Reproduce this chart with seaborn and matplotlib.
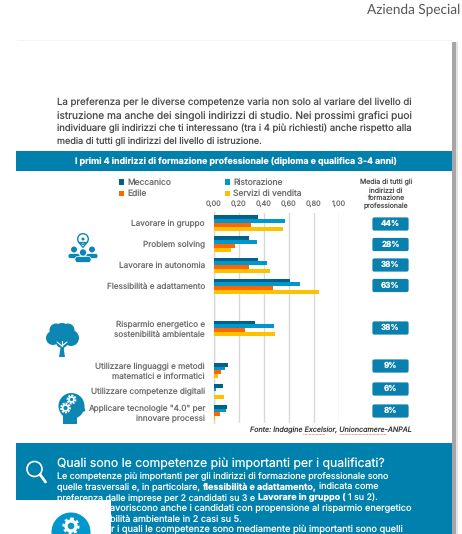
import numpy as np
import pandas as pd
import matplotlib
matplotlib.use("Agg")
import matplotlib.pyplot as plt
from matplotlib.patches import Rectangle, FancyBboxPatch, Circle, Polygon
import seaborn as sns

categories = ["Lavorare in gruppo", "Problem solving", "Lavorare in autonomia",
              "Flessibilità e adattamento", " ",
              "Risparmio energetico e\nsostenibilità ambientale", "  ",
              "Utilizzare linguaggi e metodi\nmatematici e informatici",
              "Utilizzare competenze digitali",
              "Applicare tecnologie \"4.0\" per\ninnovare processi"]
meccanico = [0.355, 0.283, 0.355, 0.608, np.nan, 0.325, np.nan, 0.11, 0.075, 0.10]
ristorazione = [0.565, 0.347, 0.42, 0.688, np.nan, 0.477, np.nan, 0.088, 0.016, 0.096]
edile = [0.295, 0.168, 0.283, 0.47, np.nan, 0.248, np.nan, 0.053, 0.0, 0.045]
servizi = [0.55, 0.136, 0.448, 0.837, np.nan, 0.485, np.nan, 0.03, 0.08, 0.005]
media_labels = ["44%", "28%", "38%", "63%", "38%", "9%", "6%", "8%"]
media_y = [224, 244.5, 265, 285.5, 328, 366, 389, 411]
series_names = ["Meccanico", "Ristorazione", "Edile", "Servizi di vendita"]
series_colors = ["#00618A", "#0097CC", "#FF6600", "#FFC000"]
xticks = [0, 0.2, 0.4, 0.6, 0.8, 1.0]
xticklabels = ["0,00", "0,20", "0,40", "0,60", "0,80", "1,00"]

W, H = 462, 534
BLUE = "#0080AC"
FONT = "Inter"
GREY = "#6E6E6E"

sns.set_theme(style="white")
plt.rcParams["font.family"] = [FONT, "DejaVu Sans"]
plt.rcParams["text.hinting"] = "no_hinting"

fig = plt.figure(figsize=(W / 100, H / 100), dpi=100, facecolor="white")

page = fig.add_axes([0, 0, 1, 1], zorder=0)
page.set_xlim(0, W)
page.set_ylim(H, 0)
page.axis("off")

# page shadow, bands
page.add_patch(Rectangle((452, 42), 4, 492, color="#A6A6A6", lw=0))
page.add_patch(Rectangle((456, 42), 2, 492, color="#E2E2E2", lw=0))
page.add_patch(Rectangle((17, 40), 435, 1.2, color="#F4F4F4", lw=0))
page.add_patch(Rectangle((16, 151), 436, 19.5, color=BLUE, lw=0))
page.add_patch(Rectangle((16, 443), 436, 91, color=BLUE, lw=0))

page.text(367, 10, "Azienda Special", fontsize=9.85, color="#555555", va="center", family="Lato")

renderer = fig.canvas.get_renderer()


def width(s, size, weight="normal"):
    t = page.text(0, 0, s, fontsize=size, fontweight=weight)
    w = t.get_window_extent(renderer).width
    t.remove()
    return w


def line(y, x0, x1, runs, color, size=6.0):
    """Draw one line whose runs share a size fitted to the span x0..x1."""
    gap = width("a a", size) - width("aa", size)
    natural = sum(width(t, size, wt) for t, wt in runs) + gap * (len(runs) - 1)
    fitted = size * (x1 - x0) / natural
    gap = gap * fitted / size
    x = x0
    for t, wt in runs:
        page.text(x, y + fitted * 0.47, t, fontsize=fitted, fontweight=wt, color=color,
                  va="baseline", ha="left")
        x += width(t, fitted, wt) + gap


# intro paragraph
C_BODY = "#4A4A4A"
line(102, 57, 412, [("La preferenza per le diverse competenze varia non solo al variare del livello di", "normal")], C_BODY)
line(115, 57, 412, [("istruzione ma anche dei singoli indirizzi di studio. Nei prossimi grafici puoi", "normal")], C_BODY)
line(128, 57, 412, [("individuare gli indirizzi che ti interessano (tra i 4 più richiesti) anche rispetto alla", "normal")], C_BODY)
line(140.5, 57, 262, [("media di tutti gli indirizzi del livello di istruzione.", "normal")], C_BODY)

page.text(235.5, 161, "I primi 4 indirizzi di formazione professionale (diploma e qualifica 3-4 anni)",
          color="white", fontsize=6.35, fontweight="bold", ha="center", va="center")

# column heading
page.text(386, 194.5, "Media di tutti gli\nindirizzi di\nformazione\nprofessionale", fontsize=5.0,
          color="#505050", ha="center", va="center", linespacing=1.15)

# chart
ax_l, ax_r, ax_t, ax_b = 214, 339, 212.5, 423
ax = fig.add_axes([ax_l / W, 1 - ax_b / H, (ax_r - ax_l) / W, (ax_b - ax_t) / H], zorder=2)
ax.patch.set_alpha(0)
df = pd.DataFrame({"categoria": categories, "Meccanico": meccanico, "Ristorazione": ristorazione,
                   "Edile": edile, "Servizi di vendita": servizi})
long = df.melt(id_vars="categoria", var_name="indirizzo", value_name="valore")
sns.barplot(data=long, y="categoria", x="valore", hue="indirizzo", order=categories,
            hue_order=series_names, palette=series_colors, width=0.72, saturation=1,
            errorbar=None, ax=ax, zorder=3, linewidth=0, edgecolor="none")
ax.set_xlim(0, 1)
ax.set_ylim(9.5, -0.5)
ax.set_xlabel("")
ax.set_ylabel("")
ax.xaxis.tick_top()
ax.set_xticks(xticks)
ax.set_xticklabels(xticklabels, fontsize=5.2, color=GREY)
ax.tick_params(axis="x", length=0, pad=4)
ax.tick_params(axis="y", length=0, pad=6.5)
for lab in ax.get_yticklabels():
    lab.set_fontsize(5.9)
    lab.set_color(GREY)
    lab.set_multialignment("right")
    lab.set_linespacing(1.2)
ax.grid(axis="x", color="#D9D9D9", lw=1)
ax.set_axisbelow(True)
for s in ["top", "right", "bottom"]:
    ax.spines[s].set_visible(False)
ax.spines["left"].set_color("#D9D9D9")
ax.spines["left"].set_linewidth(1)

handles, labels = ax.get_legend_handles_labels()
order = [0, 2, 1, 3]
ax.legend([handles[i] for i in order], [labels[i] for i in order], ncol=2, frameon=False,
          loc="lower left", bbox_to_anchor=(119 / W, 1 - 198 / H), bbox_transform=fig.transFigure,
          fontsize=6.1, labelcolor=GREY, handlelength=0.6, handleheight=0.6, handletextpad=0.4,
          columnspacing=6.3, labelspacing=0.35, borderpad=0, borderaxespad=0)

# right-hand average boxes
for lab, y in zip(media_labels, media_y):
    page.add_patch(FancyBboxPatch((373, y - 6), 35, 12, boxstyle="round,pad=0.6,rounding_size=1.8",
                                  fc="#0A80AE", ec="none"))
    page.text(390.5, y, lab, color="white", fontsize=5.8, fontweight="bold", ha="center", va="center")

# source
page.text(412, 430.5, "Fonte: Indagine Excelsior, Unioncamere-ANPAL", fontsize=5.15, fontstyle="italic",
          color="#3C3C3C", ha="right", va="center")
page.plot([303, 325], [433.5, 433.5], color="#E03030", lw=0.5, ls=(0, (1, 1)))
page.plot([339, 386], [433.5, 433.5], color="#E03030", lw=0.5, ls=(0, (1, 1)))

# people icon
IC = "#0E86B4"
page.add_patch(Circle((83, 239), 5.3, fc="none", ec=IC, lw=1))
page.add_patch(Polygon([[79, 242.5], [87, 242.5], [83, 247.5]], fc="none", ec=IC, lw=0.9))
page.add_patch(Circle((83, 239), 1.5, color=IC, lw=0))
for cx, cy, r, hw, top, bot in [(74, 249.5, 3, 6, 253.5, 258.5), (92, 249.5, 3, 6, 253.5, 258.5),
                                (83, 252.5, 3.2, 8, 256.5, 262.5)]:
    page.add_patch(Circle((cx, cy), r, color=IC, lw=0))
    page.add_patch(FancyBboxPatch((cx - hw, top), 2 * hw, bot - top, boxstyle="round,pad=0,rounding_size=2.5",
                                  fc=IC, ec="white", lw=0.5))

# tree icon
for cx, cy, r in [(62, 332, 9), (53, 338, 7), (71, 338, 8), (56, 330, 6.5), (68, 330, 6.5), (62, 342, 6)]:
    page.add_patch(Circle((cx, cy), r, color=IC, lw=0))
page.add_patch(Polygon([[60.5, 348], [63.5, 348], [65, 357], [59, 357]], color=IC, lw=0))
page.plot([62, 62], [346, 350], color=IC, lw=2)
for seg in [([62, 57], [346, 342]), ([62, 67], [346, 342]), ([62, 62], [346, 341])]:
    page.plot(seg[0], seg[1], color="white", lw=0.8)

# head icon
page.add_patch(Circle((71.5, 406), 13, color=IC, lw=0))
page.add_patch(Polygon([[63, 412], [80, 412], [80, 416], [76.5, 416], [76.5, 424], [63, 424]], color=IC, lw=0))
page.add_patch(Polygon([[83, 404], [85.5, 411], [82, 412]], color=IC, lw=0))
for cx, cy, r in [(71.5, 399.5, 3.2), (65.5, 408, 3.6)]:
    page.add_patch(Circle((cx, cy), r + 0.8, fc="none", ec="white", lw=1.4, ls=(0, (1, 0.6))))
    page.add_patch(Circle((cx, cy), r - 0.7, fc="none", ec="white", lw=1.2))

# lower band
line(463.5, 57, 385, [("Quali sono le competenze più importanti per i qualificati?", "normal")], "white", size=8.8)
page.add_patch(Circle((34.5, 469), 7.5, fc="none", ec="white", lw=1.2))
page.plot([40, 45.5], [474.5, 482], color="white", lw=2, solid_capstyle="round")

line(475.5, 57, 389, [("Le competenze più importanti per gli indirizzi di formazione professionale sono", "normal")], "white")
line(486, 57, 379, [("quelle trasversali e, in particolare,", "normal"), ("flessibilità e adattamento,", "bold"),
                    ("indicata come", "normal")], "white")
line(497, 57, 378, [("preferenza dalle imprese per 2 candidati su 3 e", "normal"), ("Lavorare in gruppo (", "bold"),
                    ("1 su 2).", "normal")], "white")
line(508, 110, 412, [("avoriscono anche i candidati con propensione al risparmio energetico", "normal")], "white")
line(518.5, 110, 242, [("bilità ambientale in 2 casi su 5.", "normal")], "white")
line(529, 111, 403, [("r i quali le competenze sono mediamente più importanti sono quelli", "normal")], "white")

# white block with gear icon over the lower band
page.add_patch(Rectangle((0, 500), 111, 34, color="white", lw=0, zorder=5))
page.add_patch(Circle((71, 532), 19.5, color="#0097CC", lw=0, zorder=6))
page.add_patch(Circle((71, 526), 5, fc="none", ec="white", lw=2.4, zorder=7))
page.add_patch(Circle((71, 526), 7.2, fc="none", ec="white", lw=2, ls=(0, (1, 1)), zorder=7))

fig.savefig("out.png", dpi=100, facecolor="white")
